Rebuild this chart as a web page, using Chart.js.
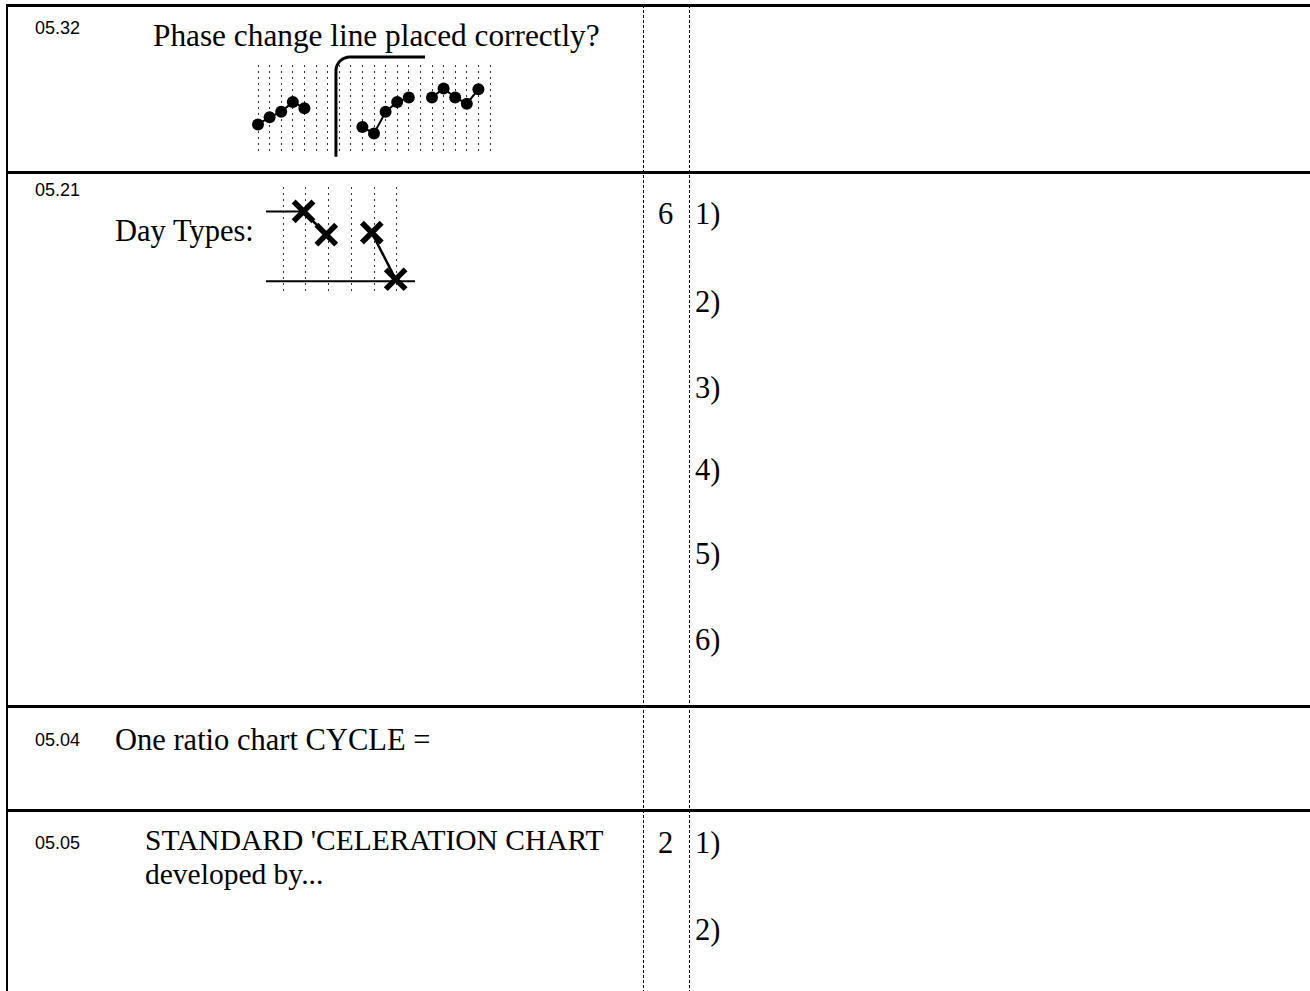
<!DOCTYPE html>
<html>
<head>
<meta charset="utf-8">
<script src="https://cdn.jsdelivr.net/npm/chart.js@4"></script>
<style>
  body { margin: 0; background: #fff; width: 1310px; height: 991px; position: relative; overflow: hidden; }
  .t { position: absolute; white-space: nowrap; line-height: 1; color: #000; }
  .s { font-family: "Liberation Serif", serif; font-size: 30.5px; }
  .n { font-family: "Liberation Sans", sans-serif; font-size: 18px; }
  .h { position: absolute; left: 6px; right: 0; height: 3px; background: #000; }
  .left { position: absolute; left: 6px; top: 4px; bottom: 0; width: 2px; background: #000; }
  .v { position: absolute; top: 5px; bottom: 0; width: 1px;
       background: repeating-linear-gradient(to bottom, #000 0 3px, transparent 3px 5px); }
  canvas { position: absolute; }
</style>
</head>
<body>
<div class="left"></div>
<div class="h" style="top:4px"></div>
<div class="h" style="top:171px"></div>
<div class="h" style="top:705px"></div>
<div class="h" style="top:809px"></div>
<div class="v" style="left:643px"></div>
<div class="v" style="left:689px"></div>

<div class="t n" style="left:35px;top:19px">05.32</div>
<div class="t s" style="left:153px;top:20px;font-size:31.3px">Phase change line placed correctly?</div>

<div class="t n" style="left:35px;top:181px">05.21</div>
<div class="t s" style="left:115px;top:216px">Day Types:</div>
<div class="t s" style="left:658px;top:199px">6</div>
<div class="t s" style="left:695px;top:199px">1)</div>
<div class="t s" style="left:695px;top:287px">2)</div>
<div class="t s" style="left:695px;top:373px">3)</div>
<div class="t s" style="left:695px;top:455px">4)</div>
<div class="t s" style="left:695px;top:539px">5)</div>
<div class="t s" style="left:695px;top:625px">6)</div>

<div class="t n" style="left:35px;top:731px">05.04</div>
<div class="t s" style="left:115px;top:725px">One ratio chart CYCLE =</div>

<div class="t n" style="left:35px;top:834px">05.05</div>
<div class="t s" style="left:145px;top:826px;font-size:29.5px">STANDARD 'CELERATION CHART</div>
<div class="t s" style="left:145px;top:860px;font-size:29.5px">developed by...</div>
<div class="t s" style="left:658px;top:828px">2</div>
<div class="t s" style="left:695px;top:828px">1)</div>
<div class="t s" style="left:695px;top:915px">2)</div>

<canvas id="phaseChart" width="270" height="125" style="left:240px;top:45px"></canvas>
<canvas id="dayChart" width="175" height="130" style="left:255px;top:175px"></canvas>

<script>
// phase change mini chart
const phaseDays = [...Array(21).keys()]
const weekA_days = [0, 1, 2, 3, 4]
const weekA_vals = [34, 42, 48, 59, 52]
const weekB_days = [9, 10, 11, 12, 13]
const weekB_vals = [31, 24, 48, 59, 64]
const weekC_days = [15, 16, 17, 18, 19]
const weekC_vals = [64, 74, 64, 57, 73]
const phaseAt = 6.72
const phaseEnd = 14.4
const phaseTop = 109
const phaseBottom = -2

// day types mini chart
const typeDays = [1, 2, 3, 4, 5, 6]
const crossA_days = [1.9, 2.9]
const crossA_vals = [77, 55]
const crossB_days = [4.9, 5.95]
const crossB_vals = [57, 13]
const topLine_days = [0.25, 1.9]
const topLine_vals = [77, 77]
const floor_days = [0.25, 6.8]
const floor_vals = [11, 11]

const pts = (xs, ys) => xs.map((x, i) => ({ x: x, y: ys[i] }))

const dotSet = (xs, ys) => ({
    data: pts(xs, ys),
    borderColor: '#000',
    backgroundColor: '#000',
    borderWidth: 2,
    pointRadius: 6,
    pointBorderWidth: 0,
    clip: false
})

const phaseLine = {
    id: 'phaseLine',
    afterDatasetsDraw(chart) {
        const { ctx, scales: { x, y } } = chart
        const px = x.getPixelForValue(phaseAt)
        const top = y.getPixelForValue(phaseTop)
        const bot = y.getPixelForValue(phaseBottom)
        const end = x.getPixelForValue(phaseEnd)
        const r = 14
        ctx.save()
        ctx.strokeStyle = '#000'
        ctx.lineWidth = 3
        ctx.beginPath()
        ctx.moveTo(px, bot)
        ctx.lineTo(px, top + r)
        ctx.arcTo(px, top, px + r, top, r)
        ctx.lineTo(end, top)
        ctx.stroke()
        ctx.restore()
    }
}

const dottedX = (min, max, days) => ({
    type: 'linear',
    min: min,
    max: max,
    afterBuildTicks: axis => { axis.ticks = days.map(v => ({ value: v })) },
    ticks: { display: false },
    grid: { color: '#333', lineWidth: 1, drawTicks: false },
    border: { display: false, dash: [2, 4] }
})

let ctx_phase = document.querySelector('#phaseChart').getContext('2d')
let phaseChart = new Chart(ctx_phase, {
    type: 'line',
    data: {
        datasets: [
            dotSet(weekA_days, weekA_vals),
            dotSet(weekB_days, weekB_vals),
            dotSet(weekC_days, weekC_vals)
        ]
    },
    options: {
        responsive: false,
        animation: false,
        layout: { autoPadding: false, padding: { left: 18, right: 20, top: 20, bottom: 15 } },
        scales: {
            x: dottedX(0, 20, phaseDays),
            y: { min: 0, max: 100, display: false }
        },
        plugins: { legend: { display: false }, tooltip: { enabled: false } }
    },
    plugins: [phaseLine]
})

const crossSet = (xs, ys) => ({
    data: pts(xs, ys),
    borderColor: '#000',
    backgroundColor: '#000',
    borderWidth: 2.5,
    pointStyle: 'crossRot',
    pointRadius: 14,
    pointBorderWidth: 5.5,
    clip: false
})

const plainSet = (xs, ys) => ({
    data: pts(xs, ys),
    borderColor: '#000',
    borderWidth: 2,
    pointRadius: 0,
    clip: false
})

let ctx_day = document.querySelector('#dayChart').getContext('2d')
let dayChart = new Chart(ctx_day, {
    type: 'line',
    data: {
        datasets: [
            plainSet(topLine_days, topLine_vals),
            plainSet(floor_days, floor_vals),
            crossSet(crossA_days, crossA_vals),
            crossSet(crossB_days, crossB_vals)
        ]
    },
    options: {
        responsive: false,
        animation: false,
        layout: { autoPadding: false, padding: { left: 11, right: 15, top: 12, bottom: 12 } },
        scales: {
            x: dottedX(0.25, 6.8, typeDays),
            y: { min: 0, max: 100, display: false }
        },
        plugins: { legend: { display: false }, tooltip: { enabled: false } }
    }
})
</script>
</body>
</html>
